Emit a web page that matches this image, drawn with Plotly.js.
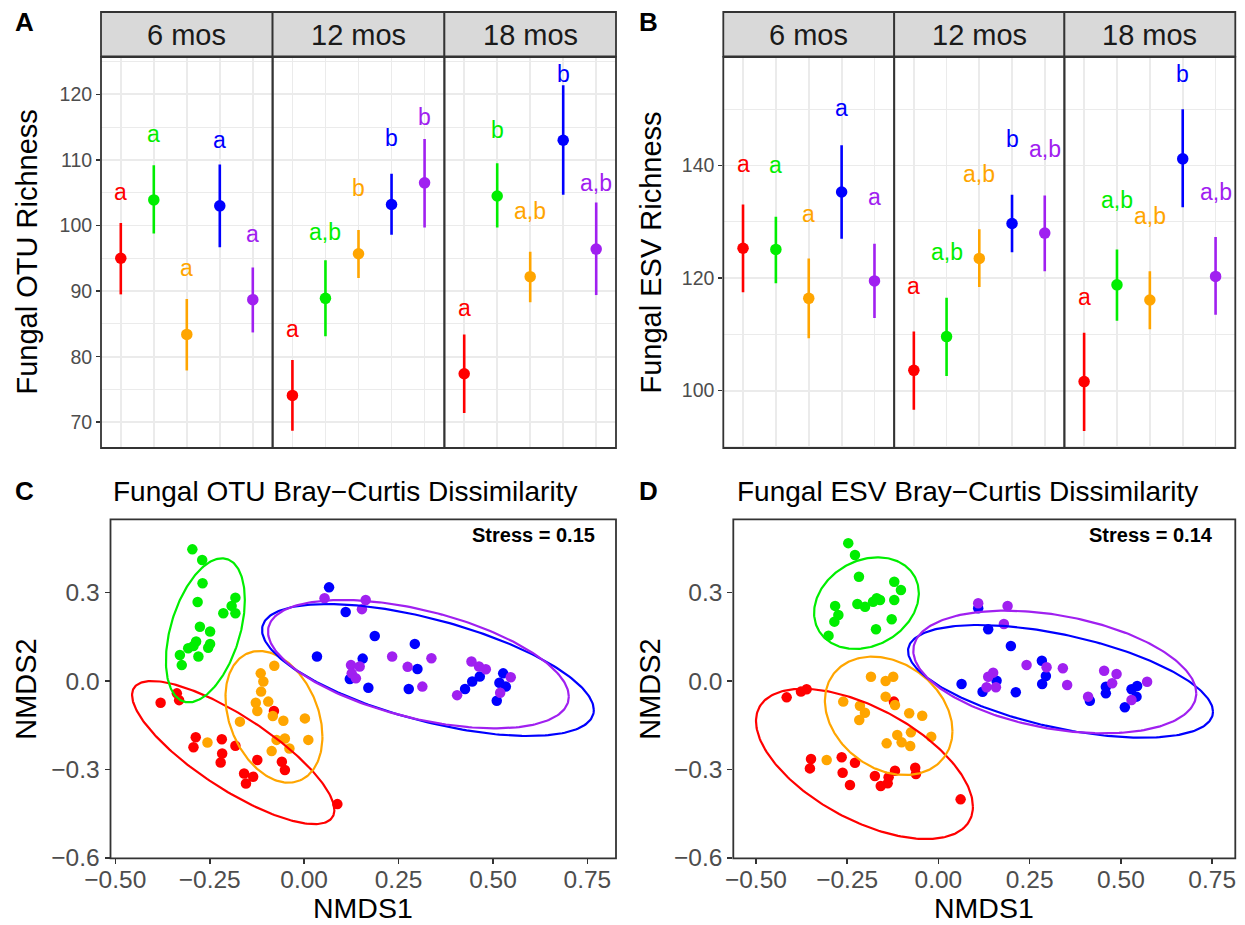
<!DOCTYPE html>
<html>
<head>
<meta charset="utf-8">
<script src="https://cdn.plot.ly/plotly-3.0.1.min.js"></script>
<style>html,body{margin:0;padding:0;background:#fff;}#chart{width:1245px;height:925px;}</style>
</head>
<body>
<div id="chart"></div>
<script>
// ---------------- DATA ----------------
const groups = ['G1', 'G2', 'G3', 'G4', 'G5'];
const groupColors = ['#FF0000', '#00EE00', '#FFA500', '#0000FF', '#A020F0'];
const times = ['6 mos', '12 mos', '18 mos'];

// Panel A: Fungal OTU richness (mean, lower, upper), rows = time, cols = group
const otuMean  = [[95.0, 103.9, 83.4, 103.0, 88.7], [74.1, 88.9, 95.7, 103.2, 106.5], [77.4, 104.5, 92.2, 113.0, 96.4]];
const otuLower = [[89.5, 98.8, 77.9, 96.7, 83.7], [68.7, 83.1, 92.0, 98.6, 99.7], [71.4, 99.7, 88.3, 104.7, 89.4]];
const otuUpper = [[100.4, 109.2, 88.8, 109.3, 93.6], [79.5, 94.7, 99.3, 107.9, 113.2], [83.4, 109.5, 96.0, 121.4, 103.5]];
const otuLetters = [['a', 'a', 'a', 'a', 'a'], ['a', 'a,b', 'b', 'b', 'b'], ['a', 'b', 'a,b', 'b', 'a,b']];
const otuLetterOffset = 8.7;

// Panel B: Fungal ESV richness
const esvMean  = [[125.3, 125.1, 116.4, 135.3, 119.5], [103.6, 109.6, 123.5, 129.7, 128.0], [101.6, 118.8, 116.1, 141.2, 120.3]];
const esvLower = [[117.5, 119.1, 109.3, 127.0, 112.9], [96.6, 102.6, 118.4, 124.6, 121.2], [92.8, 112.4, 110.9, 132.6, 113.5]];
const esvUpper = [[133.1, 130.9, 123.5, 143.6, 126.1], [110.5, 116.5, 128.7, 134.8, 134.7], [110.3, 125.1, 121.2, 150.0, 127.3]];
const esvLetters = [['a', 'a', 'a', 'a', 'a'], ['a', 'a,b', 'a,b', 'b', 'a,b'], ['a', 'a,b', 'a,b', 'b', 'a,b']];
const esvLetterOffset = 13.4;

// Panel C: OTU NMDS (per group)
const otuNMDS1 = [
  [-0.380, -0.337, -0.331, -0.287, -0.293, -0.218, -0.217, -0.221, -0.182, -0.159, -0.135, -0.154, -0.124, -0.080, -0.059, -0.051, 0.088],
  [-0.296, -0.270, -0.269, -0.282, -0.182, -0.192, -0.214, -0.182, -0.276, -0.249, -0.286, -0.249, -0.254, -0.307, -0.280, -0.329, -0.324, -0.293],
  [-0.079, -0.115, -0.108, -0.114, -0.128, -0.095, -0.124, -0.083, -0.055, 0.002, -0.170, 0.011, -0.073, -0.051, -0.039, -0.086, -0.256],
  [0.066, 0.110, 0.187, 0.034, 0.155, 0.121, 0.170, 0.293, 0.300, 0.277, 0.426, 0.445, 0.465, 0.527, 0.517, 0.534, 0.510],
  [0.054, 0.163, 0.153, 0.233, 0.337, 0.274, 0.313, 0.124, 0.147, 0.126, 0.137, 0.443, 0.463, 0.481, 0.405, 0.547, 0.519]
];
const otuNMDS2 = [
  [-0.074, -0.042, -0.065, -0.191, -0.225, -0.198, -0.246, -0.277, -0.220, -0.314, -0.325, -0.348, -0.268, -0.102, -0.274, -0.302, -0.418],
  [0.447, 0.411, 0.332, 0.268, 0.283, 0.255, 0.230, 0.230, 0.184, 0.168, 0.134, 0.126, 0.113, 0.111, 0.083, 0.088, 0.054, 0.119],
  [0.052, 0.026, -0.002, -0.036, -0.074, -0.070, -0.102, -0.119, -0.135, -0.127, -0.138, -0.200, -0.200, -0.195, -0.229, -0.238, -0.209],
  [0.318, 0.234, 0.153, 0.083, 0.076, 0.007, -0.023, 0.126, 0.041, -0.027, -0.027, -0.002, 0.015, 0.026, -0.006, -0.019, -0.067],
  [0.281, 0.275, 0.244, 0.083, 0.077, 0.048, -0.019, 0.054, 0.049, 0.026, 0.009, 0.066, 0.049, 0.040, -0.048, 0.013, -0.040]
];
// ellipse extents (data units): xmin, xmax, ymin, ymax, y at xmax
const otuEllXmin = [-0.4556, -0.366, -0.2083, -0.1115, -0.0957];
const otuEllXmax = [0.080, -0.157, 0.0484, 0.767, 0.7008];
const otuEllYmin = [-0.486, -0.0725, -0.3453, -0.1868, -0.1608];
const otuEllYmax = [0.0, 0.4166, 0.1019, 0.2615, 0.2751];
const otuEllYatXmax = [-0.438, 0.275, -0.189, -0.0985, -0.0532];
const otuStress = 'Stress = 0.15';

// Panel D: ESV NMDS
const esvNMDS1 = [
  [-0.4157, -0.3765, -0.361, -0.349, -0.352, -0.265, -0.2624, -0.2423, -0.2286, -0.174, -0.158, -0.139, -0.1365, -0.119, -0.0635, -0.0616, -0.122, 0.0608],
  [-0.247, -0.2286, -0.2177, -0.121, -0.1027, -0.121, -0.169, -0.160, -0.179, -0.201, -0.222, -0.283, -0.274, -0.285, -0.301, -0.171, -0.128],
  [-0.1848, -0.1446, -0.1238, -0.1446, -0.119, -0.2607, -0.215, -0.2013, -0.2168, -0.080, -0.0444, -0.0753, -0.1128, -0.1008, -0.0772, -0.1418, -0.0197, -0.3061],
  [0.109, 0.1364, 0.1985, 0.0635, 0.121, 0.1593, 0.212, 0.2834, 0.2944, 0.2842, 0.4148, 0.4587, 0.4587, 0.5107, 0.529, 0.5444, 0.5427],
  [0.109, 0.1895, 0.1794, 0.2415, 0.2963, 0.3409, 0.3527, 0.150, 0.1364, 0.132, 0.1575, 0.454, 0.488, 0.476, 0.410, 0.5717, 0.529]
];
const esvNMDS2 = [
  [-0.0555, -0.036, -0.028, -0.265, -0.2967, -0.259, -0.3113, -0.353, -0.2774, -0.3227, -0.3567, -0.3476, -0.327, -0.3047, -0.2944, -0.316, -0.070, -0.4019],
  [0.468, 0.428, 0.354, 0.337, 0.309, 0.275, 0.281, 0.275, 0.269, 0.252, 0.2615, 0.255, 0.224, 0.2015, 0.154, 0.1755, 0.2095],
  [0.0147, 0.0, 0.0147, -0.0532, -0.0815, -0.070, -0.0838, -0.1076, -0.1325, -0.1098, -0.1178, -0.1744, -0.1834, -0.2083, -0.2208, -0.2117, -0.1891, -0.2683],
  [0.247, 0.1756, 0.1189, -0.0102, -0.0363, 0.001, -0.0384, 0.069, 0.017, -0.0102, -0.0668, -0.0194, -0.0419, -0.0894, -0.0283, -0.017, -0.0532],
  [0.264, 0.2547, 0.1936, 0.0543, 0.0465, 0.0431, -0.0136, 0.0283, 0.0147, -0.0215, -0.0215, 0.035, 0.0238, -0.0079, -0.0532, -0.0023, -0.0645]
];
const esvEllXmin = [-0.4997, -0.3406, -0.311, -0.0832, -0.0688];
const esvEllXmax = [0.0945, -0.0536, 0.0385, 0.7522, 0.7064];
const esvEllYmin = [-0.5366, 0.1087, -0.3193, -0.1925, -0.1777];
const esvEllYmax = [-0.0265, 0.42, 0.0826, 0.1902, 0.2389];
const esvEllYatXmax = [-0.4268, 0.2977, -0.170, -0.1042, -0.0419];
const esvStress = 'Stress = 0.14';

// ---------------- LAYOUT HELPERS ----------------
const W = 1245, H = 925;
const px = v => v / W;
const py = v => 1 - v / H;
const FONT = 'Liberation Sans, Arial, Helvetica, sans-serif';
const BORDER = '#333333';
const GRID = '#EBEBEB';
const TICKCOL = '#4D4D4D';

const facA = [101, 272.6, 444.4, 616];
const facB = [723.3, 894.2, 1064.4, 1235.3];
const richTop = 57, richBot = 448;
const stripTop = 12, stripBot = 56.5;
const nmTop = 519.3, nmBot = 858.3;
const cX = [110.5, 616], dX = [733.3, 1235.3];

const traces = [];
const annotations = [];
const shapes = [];

function richPanel(mean, lower, upper, letters, offset, facets, xNames, yName) {
  for (let f = 0; f < 3; f++) {
    const xa = xNames[f];
    for (let g = 0; g < groups.length; g++) {
      traces.push({
        type: 'scatter', mode: 'markers',
        x: [groups[g]], y: [mean[f][g]],
        xaxis: xa, yaxis: yName,
        marker: {color: groupColors[g], size: 11.5},
        error_y: {type: 'data', symmetric: false,
          array: [upper[f][g] - mean[f][g]], arrayminus: [mean[f][g] - lower[f][g]],
          color: groupColors[g], thickness: 2.6, width: 0},
        showlegend: false, hoverinfo: 'skip'
      });
      annotations.push({
        xref: xa, yref: yName, x: groups[g], y: mean[f][g] + offset,
        text: letters[f][g], showarrow: false, yanchor: 'bottom', yshift: -6,
        font: {family: FONT, size: 23, color: groupColors[g]}
      });
    }
    // strip
    shapes.push({type: 'rect', xref: 'paper', yref: 'paper',
      x0: px(facets[f]), x1: px(facets[f + 1]), y0: py(stripBot), y1: py(stripTop),
      fillcolor: '#D9D9D9', line: {color: BORDER, width: 1.8}, layer: 'above'});
    annotations.push({xref: 'paper', yref: 'paper', x: px((facets[f] + facets[f + 1]) / 2),
      y: py((stripTop + stripBot) / 2 + 1), text: times[f], showarrow: false,
      xanchor: 'center', yanchor: 'middle', font: {family: FONT, size: 29, color: '#1A1A1A'}});
    // panel border
    shapes.push({type: 'rect', xref: 'paper', yref: 'paper',
      x0: px(facets[f]), x1: px(facets[f + 1]), y0: py(richBot), y1: py(richTop),
      line: {color: BORDER, width: 1.8}, layer: 'above'});
  }
}

richPanel(otuMean, otuLower, otuUpper, otuLetters, otuLetterOffset, facA, ['x', 'x2', 'x3'], 'y');
richPanel(esvMean, esvLower, esvUpper, esvLetters, esvLetterOffset, facB, ['x4', 'x5', 'x6'], 'y2');

function ellipsePath(xmin, xmax, ymin, ymax, yR) {
  const cx = (xmin + xmax) / 2, cy = (ymin + ymax) / 2;
  const rx = (xmax - xmin) / 2, ry = (ymax - ymin) / 2;
  const k = yR - cy;
  const s = Math.sqrt(Math.max(ry * ry - k * k, 0));
  const xs = [], ys = [];
  for (let i = 0; i <= 240; i++) {
    const t = 2 * Math.PI * i / 240;
    xs.push(cx + rx * Math.cos(t));
    ys.push(cy + k * Math.cos(t) + s * Math.sin(t));
  }
  return {xs, ys};
}

function nmdsPanel(n1, n2, exmin, exmax, eymin, eymax, eyr, xa, ya) {
  for (let g = 0; g < groups.length; g++) {
    traces.push({type: 'scatter', mode: 'markers', x: n1[g], y: n2[g], xaxis: xa, yaxis: ya,
      marker: {color: groupColors[g], size: 10.5}, showlegend: false, hoverinfo: 'skip'});
  }
  for (let g = 0; g < groups.length; g++) {
    const e = ellipsePath(exmin[g], exmax[g], eymin[g], eymax[g], eyr[g]);
    traces.push({type: 'scatter', mode: 'lines', x: e.xs, y: e.ys, xaxis: xa, yaxis: ya,
      line: {color: groupColors[g], width: 2.2}, showlegend: false, hoverinfo: 'skip'});
  }
}
nmdsPanel(otuNMDS1, otuNMDS2, otuEllXmin, otuEllXmax, otuEllYmin, otuEllYmax, otuEllYatXmax, 'x7', 'y3');
nmdsPanel(esvNMDS1, esvNMDS2, esvEllXmin, esvEllXmax, esvEllYmin, esvEllYmax, esvEllYatXmax, 'x8', 'y4');

// NMDS borders
[cX, dX].forEach(xx => shapes.push({type: 'rect', xref: 'paper', yref: 'paper',
  x0: px(xx[0]), x1: px(xx[1]), y0: py(nmBot), y1: py(nmTop),
  line: {color: BORDER, width: 1.8}, layer: 'above'}));

// Titles / labels
function ann(text, x, y, size, opts) {
  annotations.push(Object.assign({xref: 'paper', yref: 'paper', x: px(x), y: py(y), text: text,
    showarrow: false, xanchor: 'center', yanchor: 'middle',
    font: {family: FONT, size: size, color: '#000'}}, opts || {}));
}
ann('<b>A</b>', 24, 22, 26);
ann('<b>B</b>', 648, 22, 26);
ann('<b>C</b>', 24, 491, 26);
ann('<b>D</b>', 648, 491, 26);
ann('Fungal OTU Richness', 26, (richTop + richBot) / 2, 29, {textangle: -90});
ann('Fungal ESV Richness', 650, (richTop + richBot) / 2, 29, {textangle: -90});
ann('NMDS2', 26, (nmTop + nmBot) / 2, 29, {textangle: -90});
ann('NMDS2', 650, (nmTop + nmBot) / 2, 29, {textangle: -90});
ann('NMDS1', (cX[0] + cX[1]) / 2, 925, 28.5, {yanchor: 'bottom', borderpad: 0});
ann('NMDS1', (dX[0] + dX[1]) / 2, 925, 28.5, {yanchor: 'bottom', borderpad: 0});
ann('Fungal OTU Bray\u2212Curtis Dissimilarity', 111, 491, 28, {xanchor: 'left'});
ann('Fungal ESV Bray\u2212Curtis Dissimilarity', 734.5, 491, 28, {xanchor: 'left'});
ann('<b>' + otuStress + '</b>', 597, 535, 20, {xanchor: 'right'});
ann('<b>' + esvStress + '</b>', 1215, 535, 20, {xanchor: 'right'});

// ---------------- AXES ----------------
function catAxis(x0, x1, anchor) {
  return {domain: [px(x0), px(x1)], anchor: anchor, type: 'category',
    categoryorder: 'array', categoryarray: groups, range: [-0.6, 4.6],
    showticklabels: false, ticks: '', showgrid: true, gridcolor: GRID, gridwidth: 1.8,
    zeroline: false, showline: false, fixedrange: true};
}
function richY(range, dtick, anchor) {
  return {domain: [py(richBot), py(richTop)], anchor: anchor, range: range,
    dtick: dtick, tick0: 0, ticks: 'outside', ticklen: 4, tickwidth: 1.6, tickcolor: BORDER,
    tickfont: {family: FONT, size: 19.5, color: TICKCOL},
    showgrid: true, gridcolor: GRID, gridwidth: 1.8,
    minor: {dtick: dtick / 2, tick0: 0, showgrid: true, gridcolor: GRID, gridwidth: 1.0, ticks: ''},
    zeroline: false, showline: false};
}
function nmX(x0, x1, anchor, range) {
  return {domain: [px(x0), px(x1)], anchor: anchor, range: range,
    tickvals: [-0.5, -0.25, 0, 0.25, 0.5, 0.75], tickformat: '.2f',
    ticks: 'outside', ticklen: 5, tickwidth: 1.6, tickcolor: BORDER,
    ticklabelstandoff: -6,
    tickfont: {family: FONT, size: 24.5, color: TICKCOL},
    showgrid: false, zeroline: false, showline: false};
}
function nmY(anchor) {
  return {domain: [py(nmBot), py(nmTop)], anchor: anchor, range: [-0.602, 0.549],
    tickvals: [-0.6, -0.3, 0, 0.3], tickformat: '.1f',
    ticks: 'outside', ticklen: 5, tickwidth: 1.6, tickcolor: BORDER,
    tickfont: {family: FONT, size: 24.5, color: TICKCOL},
    showgrid: false, zeroline: false, showline: false};
}

const layout = {
  width: W, height: H, margin: {l: 0, r: 0, t: 0, b: 0},
  paper_bgcolor: '#FFFFFF', plot_bgcolor: '#FFFFFF', showlegend: false,
  font: {family: FONT},
  xaxis: catAxis(facA[0], facA[1], 'y'),
  xaxis2: catAxis(facA[1], facA[2], 'y'),
  xaxis3: catAxis(facA[2], facA[3], 'y'),
  xaxis4: catAxis(facB[0], facB[1], 'y2'),
  xaxis5: catAxis(facB[1], facB[2], 'y2'),
  xaxis6: catAxis(facB[2], facB[3], 'y2'),
  yaxis: richY([66.08, 125.69], 10, 'x'),
  yaxis2: richY([89.8, 159.3], 20, 'x4'),
  xaxis7: nmX(cX[0], cX[1], 'y3', [-0.5127, 0.8257]),
  yaxis3: nmY('x7'),
  xaxis8: nmX(dX[0], dX[1], 'y4', [-0.5619, 0.8133]),
  yaxis4: nmY('x8'),
  annotations: annotations,
  shapes: shapes
};

Plotly.newPlot('chart', traces, layout, {staticPlot: true, displayModeBar: false});
</script>
</body>
</html>
